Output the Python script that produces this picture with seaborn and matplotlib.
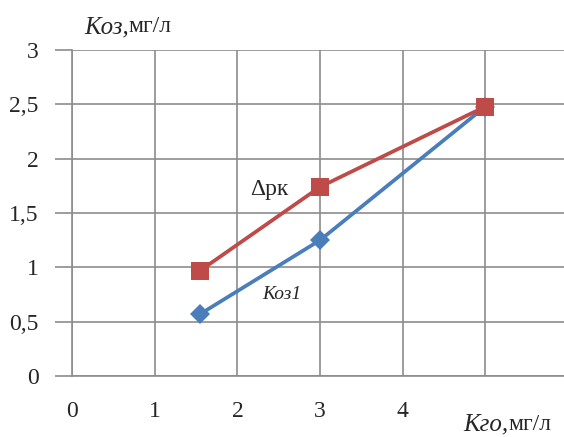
import pandas as pd
import seaborn as sns
import matplotlib.pyplot as plt

# values
kgo = [1.55, 3.0, 5.0]
koz1 = [0.57, 1.25, 2.48]
drk = [0.97, 1.74, 2.48]
y_ticks = [0, 0.5, 1, 1.5, 2, 2.5, 3]
y_labels = ['0', '0,5', '1', '1,5', '2', '2,5', '3']
x_ticks = [0, 1, 2, 3, 4, 5]
x_labels = ['0', '1', '2', '3', '4', '']

df = pd.DataFrame({
    'kgo': kgo * 2,
    'koz': koz1 + drk,
    'series': ['koz1'] * len(kgo) + ['drk'] * len(kgo),
})

sns.set_style("white")
plt.rcParams['font.family'] = ['Liberation Serif', 'DejaVu Serif']

fig = plt.figure(figsize=(5.64, 4.37), dpi=100)
ax = fig.add_axes([72 / 564, 1 - 376 / 437, 1 - 72 / 564, (376 - 50) / 437])

colors = {'koz1': '#4a7ebb', 'drk': '#be4b48'}
markers = {'koz1': 'D', 'drk': 's'}
sizes = {'koz1': 10, 'drk': 13}
for name in ['koz1', 'drk']:
    sub = df[df['series'] == name]
    sns.lineplot(data=sub, x='kgo', y='koz', ax=ax, color=colors[name],
                 linewidth=2.7, marker=markers[name], markersize=sizes[name],
                 markeredgewidth=0, legend=False, zorder=3)

ax.set_xlim(0, 5.95)
ax.set_ylim(0, 3)
ax.set_xticks(x_ticks)
ax.set_xticklabels(x_labels)
ax.set_yticks(y_ticks)
ax.set_yticklabels(y_labels)
ax.grid(True, color='#8c8c8c', linewidth=1.2)
ax.set_axisbelow(True)
ax.tick_params(axis='y', length=12, width=1.2, color='#8c8c8c', direction='out',
               pad=12, labelsize=17, left=True)
ax.tick_params(axis='x', length=0, pad=18, labelsize=17)
for side in ['top', 'right']:
    ax.spines[side].set_visible(False)
for side in ['left', 'bottom']:
    ax.spines[side].set_color('#8c8c8c')
    ax.spines[side].set_linewidth(1.2)
ax.set_xlabel('')
ax.set_ylabel('')

# axis titles
fig.text(84 / 564, 1 - 27 / 437, 'Kоз,', fontsize=18, style='italic', va='center')
fig.text(128 / 564, 1 - 27 / 437, 'мг/л', fontsize=17, va='center')
fig.text(463 / 564, 1 - 424 / 437, 'Kго,', fontsize=18, style='italic', va='center')
fig.text(508 / 564, 1 - 424 / 437, 'мг/л', fontsize=17, va='center')

ax.text(2.15, 1.72, 'Δрк', fontsize=17, ha='left', va='center')
ax.text(2.3, 0.75, 'Коз1', fontsize=14, style='italic', ha='left', va='center')

fig.savefig('out.png', dpi=100)
